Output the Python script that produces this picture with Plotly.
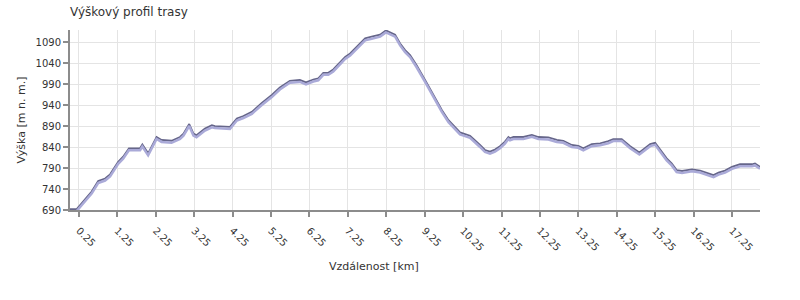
import plotly.graph_objects as go

distance_km = [0.0, 0.19, 0.28, 0.58, 0.75, 0.93, 1.06, 1.27, 1.40, 1.55, 1.84, 1.90, 2.05,
               2.27, 2.40, 2.66, 2.88, 2.97, 3.12, 3.23, 3.31, 3.49, 3.53, 3.71, 3.79, 4.18,
               4.36, 4.53, 4.75, 5.01, 5.27, 5.48, 5.74, 6.00, 6.16, 6.35, 6.48, 6.61, 6.74,
               6.87, 7.18, 7.31, 7.48, 7.70, 7.87, 8.09, 8.24, 8.35, 8.48, 8.61, 8.74, 8.87,
               9.04, 9.26, 9.48, 9.70, 9.87, 10.04, 10.17, 10.30, 10.43, 10.69, 10.82, 10.95,
               11.08, 11.21, 11.34, 11.43, 11.47, 11.56, 11.82, 12.04, 12.21, 12.47, 12.69,
               12.86, 13.08, 13.25, 13.38, 13.60, 13.82, 14.03, 14.16, 14.38, 14.60, 14.84,
               14.99, 15.12, 15.25, 15.38, 15.55, 15.68, 15.81, 15.95, 16.21, 16.42, 16.59,
               16.77, 16.90, 17.07, 17.25, 17.46, 17.77, 17.85, 17.98]
elevation_m = [692, 692, 702, 734, 759, 765, 775, 805, 817, 837, 837, 846, 825,
               864, 857, 855, 864, 872, 895, 872, 868, 880, 884, 892, 890, 888,
               908, 914, 924, 945, 964, 982, 998, 1000, 994, 1001, 1004, 1017, 1017,
               1025, 1055, 1063, 1079, 1099, 1103, 1108, 1118, 1114, 1108, 1087, 1071, 1059,
               1035, 1000, 964, 928, 904, 888, 875, 871, 867, 845, 833, 829,
               834, 842, 853, 864, 861, 864, 864, 869, 864, 863, 857,
               855, 845, 843, 837, 847, 849, 854, 859, 859, 842, 827,
               837, 847, 850, 833, 813, 801, 785, 783, 787, 784, 779,
               773, 779, 784, 793, 799, 799, 801, 793]

x_ticks = [0.25 + i for i in range(18)]
x_tick_labels = [f"{v:.2f}" for v in x_ticks]
y_ticks = [690, 740, 790, 840, 890, 940, 990, 1040, 1090]

Y_RANGE = [690, 1119]
SHADOW = 4.8

fig = go.Figure()
fig.add_trace(go.Scatter(x=distance_km, y=elevation_m, mode="lines", yaxis="y2",
                         line=dict(color="#aaaad8", width=2.5), hoverinfo="skip",
                         showlegend=False))
fig.add_trace(go.Scatter(x=distance_km, y=elevation_m, mode="lines",
                         line=dict(color="#66668a", width=1.8), showlegend=False))

axis_font = dict(family="DejaVu Sans", size=10, color="#333333")
fig.update_layout(
    width=800, height=300,
    margin=dict(l=70, r=40, t=30, b=90),
    paper_bgcolor="white", plot_bgcolor="white",
    font=dict(family="DejaVu Sans", size=10, color="#333333"),
    title=dict(text="Výškový profil trasy", x=70/800, xanchor="left", xref="container",
               y=1 - 12/300, yanchor="middle", yref="container",
               font=dict(family="DejaVu Sans", size=12, color="#333333")),
    xaxis=dict(range=[0.016, 17.98], tickvals=x_ticks, ticktext=x_tick_labels,
               tickangle=45, tickfont=axis_font, showgrid=True, gridcolor="#e4e4e4",
               gridwidth=1, zeroline=False, showline=True, linecolor="#8c8c8c", linewidth=2,
               ticks="outside", ticklen=5, tickcolor="#8c8c8c", tickwidth=2,
               ticklabelstandoff=4),
    yaxis=dict(range=Y_RANGE, tickvals=y_ticks, tickfont=axis_font, showgrid=True,
               gridcolor="#e4e4e4", gridwidth=1, zeroline=False, showline=True,
               linecolor="#8c8c8c", linewidth=2, ticks="outside", ticklen=5,
               tickcolor="#8c8c8c", tickwidth=2,
               title=dict(text="Výška [m n. m.]", font=dict(family="DejaVu Sans", size=11,
                                                           color="#333333"), standoff=8)),
    yaxis2=dict(range=[Y_RANGE[0] + SHADOW, Y_RANGE[1] + SHADOW], overlaying="y",
                visible=False),
    annotations=[dict(text="Vzdálenost [km]", x=(374 - 70) / 690, y=(210 - 266) / 180,
                      xref="paper", yref="paper", xanchor="center", yanchor="middle",
                      showarrow=False,
                      font=dict(family="DejaVu Sans", size=11, color="#333333"))],
)

fig.write_html("out.html")
